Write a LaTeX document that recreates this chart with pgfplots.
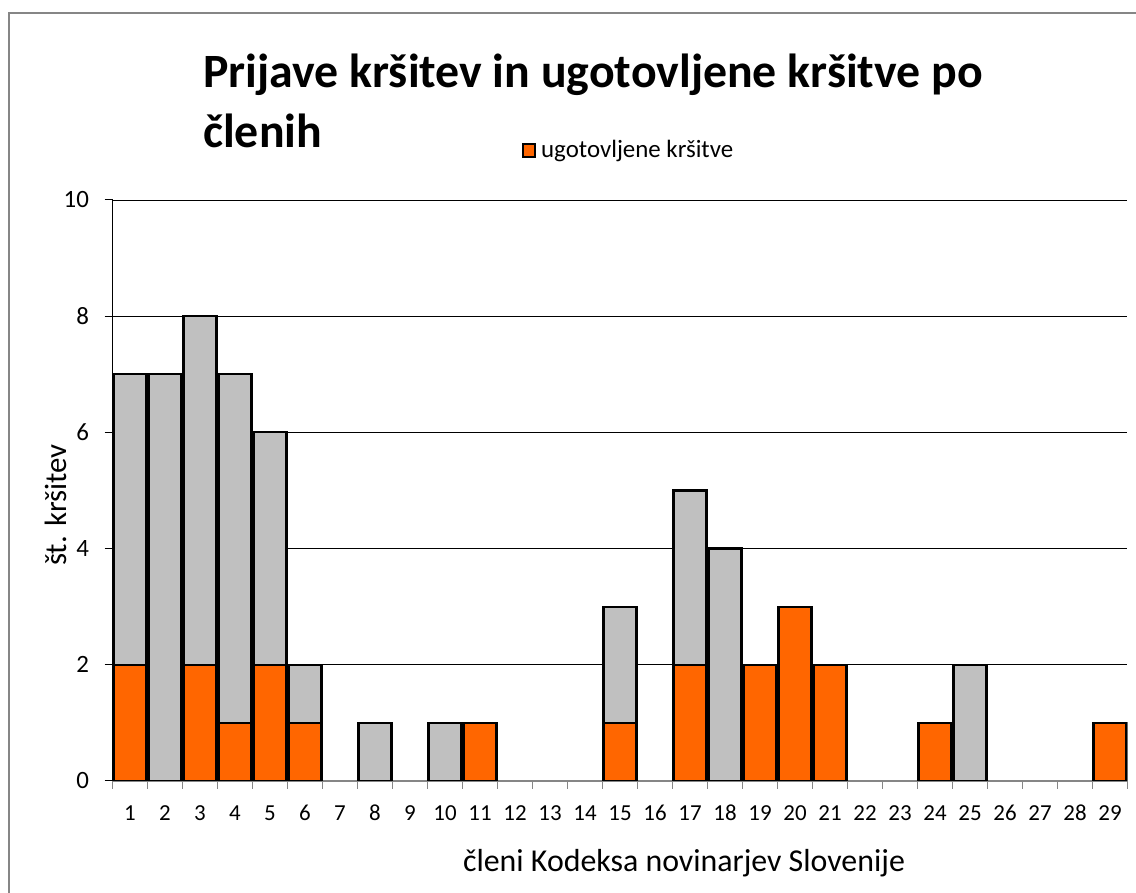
\documentclass[border=0pt]{standalone}
\usepackage{fontspec}
\setmainfont{Carlito}
\usepackage{pgfplots}
\pgfplotsset{compat=1.18}
\definecolor{barorange}{HTML}{FF6600}
\definecolor{bargray}{HTML}{C0C0C0}
\definecolor{axgray}{HTML}{868686}
\begin{document}
\begin{tikzpicture}[x=1bp,y=1bp]
\path[use as bounding box] (0,0) rectangle (1136,893);
\draw[axgray, line width=1.5bp] (9,-20) -- (9,880) -- (1160,880);
\node[anchor=base west, font=\fontsize{48}{56}\bfseries\selectfont, inner sep=0pt] at (203,805) {Prijave kršitev in ugotovljene kršitve po};
\node[anchor=base west, font=\fontsize{48}{56}\bfseries\selectfont, inner sep=0pt] at (203,745) {členih};
\node[rotate=90, font=\fontsize{31}{36}\selectfont, inner sep=0pt] at (56,388) {št. kršitev};
\node[anchor=base, font=\fontsize{32}{38}\selectfont, inner sep=0pt] at (684,21) {členi Kodeksa novinarjev Slovenije};
\begin{axis}[
  at={(112.5bp,112bp)}, anchor=south west,
  scale only axis, width=1015bp, height=581bp,
  xmin=0.5, xmax=29.5, ymin=0, ymax=10,
  xtick={1,...,29},
  minor xtick={0.5,1.5,...,29.5},
  ytick={0,2,...,10},
  ymajorgrids, grid style={black, line width=0.9bp},
  axis x line*=bottom, axis y line*=left,
  x axis line style={axgray, line width=1.2bp, -},
  y axis line style={black, line width=1bp, -},
  tick align=outside,
  major tick length=8bp, minor tick length=8bp,
  xtick style={draw=none},
  minor x tick style={draw=axgray, line width=1.2bp},
  ytick style={draw=black, line width=1bp},
  /pgf/number format/assume math mode=true,
  xticklabel style={font=\fontsize{23}{27}\selectfont, text height=14.5bp, text depth=0bp, inner sep=0pt, yshift=-17bp},
  yticklabel style={font=\fontsize{25}{29}\selectfont, xshift=-12bp},
  legend style={at={(0.4034,1.086)}, anchor=west, draw=none, fill=none,
    font=\fontsize{25}{29}\selectfont, inner sep=0pt},
  legend image code/.code={\draw[#1, draw=black, line width=2bp] (0bp,-7bp) rectangle (12bp,6bp);},
]
\addplot[ybar, bar shift=0pt, bar width=0.94, fill=bargray, draw=black, line width=2.2bp, forget plot]
  coordinates {(1,7) (2,7) (3,8) (4,7) (5,6) (6,2) (8,1) (10,1) (11,1) (15,3) (17,5) (18,4) (19,2) (20,3) (21,2) (24,1) (25,2) (29,1)};
\addplot[ybar, bar shift=0pt, bar width=0.94, fill=barorange, draw=black, line width=2.2bp]
  coordinates {(1,2) (3,2) (4,1) (5,2) (6,1) (11,1) (15,1) (17,2) (19,2) (20,3) (21,2) (24,1) (29,1)};
\addlegendentry{\hspace{3bp}ugotovljene kršitve}
\end{axis}
\end{tikzpicture}
\end{document}
